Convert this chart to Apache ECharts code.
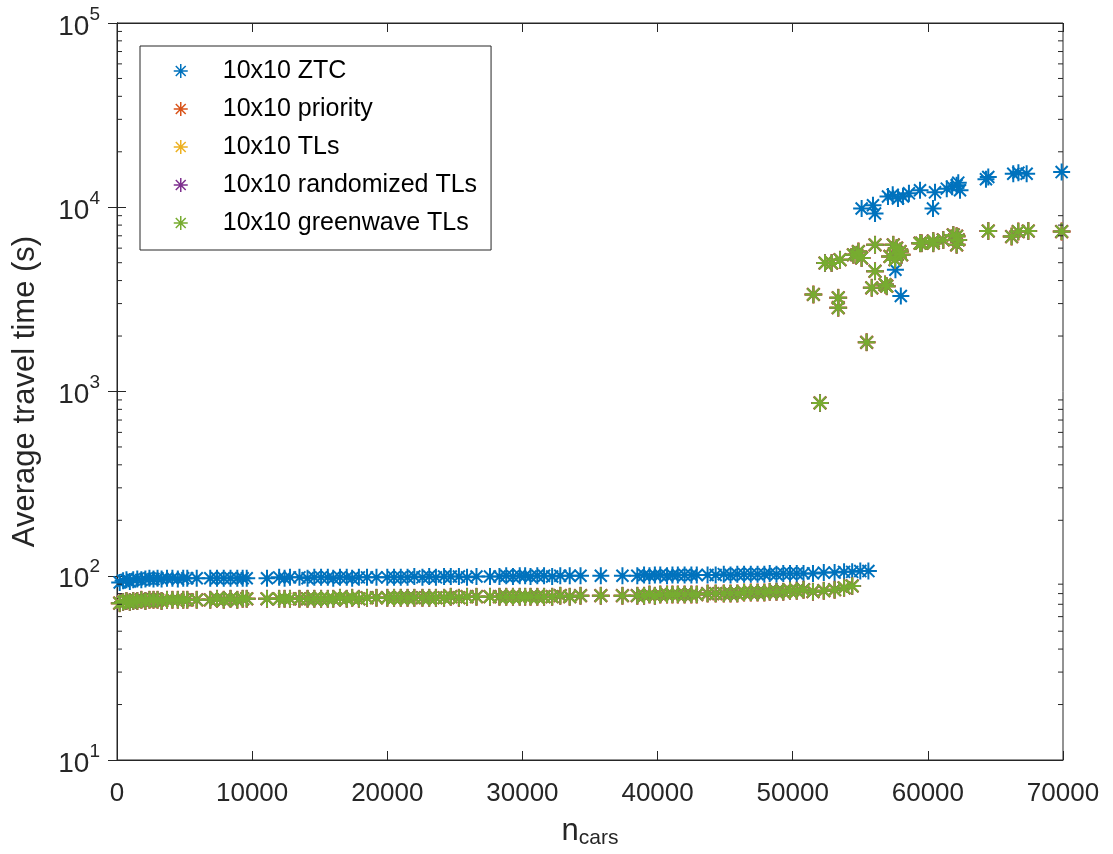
<!DOCTYPE html>
<html>
<head>
<meta charset="utf-8">
<script src="https://cdn.jsdelivr.net/npm/echarts@6/dist/echarts.min.js"></script>
<style>html,body{margin:0;padding:0;background:#fff;}#chart{width:1113px;height:854px;}</style>
</head>
<body>
<div id="chart"></div>
<script>
// ---------- data ----------
const seriesNames = ['10x10 ZTC', '10x10 priority', '10x10 TLs', '10x10 randomized TLs', '10x10 greenwave TLs'];
const colors = ['#0072BD', '#D95319', '#EDB120', '#7E2F8E', '#77AC30'];

const xTicks = [0, 10000, 20000, 30000, 40000, 50000, 60000, 70000];
const yMinorTicks = [20,30,40,50,60,70,80,90, 200,300,400,500,600,700,800,900,
  2000,3000,4000,5000,6000,7000,8000,9000, 20000,30000,40000,50000,60000,70000,80000,90000];

// ZTC: free-flow branch
const ztcLowX = [200,450,700,950,1200,1500,1800,2100,2400,2700,3000,3300,3700,4100,4500,4900,5200,5900,6900,7400,7900,8400,8900,9300,9600,
  11100,12000,12400,12800,13500,14100,14600,15100,15600,16000,16500,17000,17400,17900,18500,19200,20000,20500,21000,21500,22000,22600,23100,23600,24200,24700,25300,25900,26600,27600,
  28300,28800,29300,29800,30200,30600,31100,31600,32200,32800,33500,34300,35800,37400,38500,39000,39400,39800,40200,40700,41100,41500,42000,42500,42900,
  43700,44300,44900,45400,45900,46400,46900,47400,47900,48300,48800,49300,49800,50300,50800,51500,52300,53100,53800,54400,55000,55600];
const ztcLowY = [92,94,95,93,95,96,95,96,97,96,97,96,97,97,96,97,97,97,97,97,97,97,97,97,97,
  97,98,97,98,98,97,98,98,98,97,98,98,97,98,98,98,98,98,98,98,99,98,99,98,99,99,99,98,99,99,
  99,100,99,100,100,99,100,100,99,100,100,100,100,100,100,101,100,101,101,100,101,101,101,101,101,
  101,101,102,101,102,102,102,102,102,103,102,103,103,103,103,103,104,104,105,105,106,106];
// ZTC: congested branch
const ztcHighX = [55100,55940,56090,57050,57400,57790,58160,58600,59420,60380,60530,61400,61800,62130,62250,62380,64300,64470,66320,66700,67310,69900,57600,58000];
const ztcHighY = [9840,10260,9250,11430,11700,11150,11430,11900,12360,9840,12050,12620,12900,13150,13600,12360,14200,14590,15200,15400,15200,15520,4580,3300];

// Traffic-light / priority controllers (overlapping): free-flow branch
const tlLowX = [200,450,700,950,1200,1500,1800,2100,2400,2700,3000,3300,3700,4100,4500,4900,5200,5900,6900,7400,7900,8400,8900,9300,9600,
  11100,12000,12400,12800,13500,14100,14600,15100,15600,16000,16500,17000,17400,17900,18500,19200,20000,20500,21000,21500,22000,22600,23100,23600,24200,24700,25300,25900,26600,27600,
  28300,28800,29300,29800,30200,30600,31100,31600,32200,32800,33500,34300,35800,37400,38500,39000,39400,39800,40200,40700,41100,41500,42000,42500,42900,
  43700,44300,44900,45400,45900,46400,46900,47400,47900,48300,48800,49300,49800,50300,50800,51500,52300,53100,53800,54400];
const tlLowY = [71,72,73,72,73,73,74,73,74,74,74,73,74,74,74,74,74,74,74,75,74,75,74,75,75,
  75,75,75,75,75,75,75,75,75,75,76,75,76,75,76,76,76,76,76,76,76,76,76,76,76,77,76,77,77,77,
  77,77,77,77,77,77,77,77,77,78,77,78,78,78,78,78,79,78,79,79,79,79,79,79,79,
  80,80,80,80,80,81,81,81,81,82,82,82,83,83,84,82,83,84,86,88];
// congested branch
const tlHighX = [51530,52020,52390,52880,53370,53370,53500,54490,54730,54860,55100,55470,55850,56090,56090,56830,56960,57200,57440,57570,57690,57940,58060,59420,59540,60400,60400,61140,61880,62130,62130,62250,64470,66200,66690,67430,69900];
const tlHighY = [3363,867,4980,4980,3226,2850,5190,5520,5520,5750,5300,1848,3654,6250,4495,3805,3730,5410,6250,5190,5995,5750,5520,6380,6380,6380,6560,6650,7080,6250,6960,6650,7430,6930,7380,7430,7380];

// ---------- chart ----------
const FONT = "'Liberation Sans', Arial, Helvetica, sans-serif";
const TXT = '#262626';
const star = 'path://M10,0L10,20M0,10L20,10M2.93,2.93L17.07,17.07M2.93,17.07L17.07,2.93';

function pairs(xs, ys) { return xs.map((x, i) => [x, ys[i]]); }
const ztcData = pairs(ztcLowX, ztcLowY).concat(pairs(ztcHighX, ztcHighY));
const tlData = pairs(tlLowX, tlLowY).concat(pairs(tlHighX, tlHighY));
const sizes = [17, 18, 17.5, 17.5, 17];

const series = seriesNames.map((name, i) => ({
  name: name,
  type: 'scatter',
  xAxisIndex: 0, yAxisIndex: 0,
  data: i === 0 ? ztcData : tlData,
  symbol: star,
  symbolSize: sizes[i],
  itemStyle: { color: colors[i], borderColor: colors[i], borderWidth: 2, opacity: 1 },
  emphasis: { disabled: true },
  z: 2 + i
}));

series.push({
  type: 'custom',
  silent: true,
  xAxisIndex: 0, yAxisIndex: 0,
  data: yMinorTicks.map(v => [0, v]),
  encode: { x: 0, y: 1 },
  z: 10,
  renderItem: function (params, api) {
    const y = api.coord([0, api.value(1)])[1];
    const cs = params.coordSys;
    return {
      type: 'group',
      children: [
        { type: 'line', shape: { x1: cs.x, y1: y, x2: cs.x + 5, y2: y }, style: { stroke: TXT, lineWidth: 1 } },
        { type: 'line', shape: { x1: cs.x + cs.width - 5, y1: y, x2: cs.x + cs.width, y2: y }, style: { stroke: TXT, lineWidth: 1 } }
      ]
    };
  }
});

const chart = echarts.init(document.getElementById('chart'), null, { renderer: 'canvas' });
chart.setOption({
  animation: false,
  backgroundColor: '#ffffff',
  textStyle: { fontFamily: FONT, color: TXT },
  grid: { left: 117, right: 50, top: 23, bottom: 88, show: true, borderColor: TXT, borderWidth: 1, backgroundColor: 'transparent' },
  legend: {
    left: 140, top: 46,
    orient: 'vertical',
    data: seriesNames,
    backgroundColor: '#ffffff',
    borderColor: TXT, borderWidth: 1,
    padding: [10, 14, 12, 33],
    itemWidth: 14, itemHeight: 14, itemGap: 8,
    itemStyle: { borderWidth: 1.5 },
    textStyle: { fontFamily: FONT, fontSize: 25, lineHeight: 30, color: '#000', padding: [0, 0, 0, 30] },
    selectedMode: false
  },
  xAxis: [{
    type: 'value', min: 0, max: 70000, interval: 10000, position: 'bottom',
    name: '{n|n}{s|cars}', nameLocation: 'middle', nameGap: 54,
    nameTextStyle: { rich: {
      n: { fontFamily: FONT, fontSize: 31, color: TXT },
      s: { fontFamily: FONT, fontSize: 21, color: TXT, padding: [14, 0, 0, 0] }
    } },
    axisLine: { show: true, lineStyle: { color: TXT } },
    axisTick: { show: true, inside: true, length: 9, lineStyle: { color: TXT } },
    axisLabel: { fontFamily: FONT, fontSize: 26, color: TXT, margin: 21, formatter: function (v) { return String(v); } },
    splitLine: { show: false }
  }, {
    type: 'value', min: 0, max: 70000, interval: 10000, position: 'top',
    axisLine: { show: true, lineStyle: { color: TXT } },
    axisTick: { show: true, inside: true, length: 9, lineStyle: { color: TXT } },
    axisLabel: { show: false },
    splitLine: { show: false }
  }],
  yAxis: [{
    type: 'log', logBase: 10, min: 10, max: 100000, position: 'left',
    name: 'Average travel time (s)', nameLocation: 'middle', nameGap: 76,
    nameTextStyle: { fontFamily: FONT, fontSize: 31, color: TXT },
    axisLine: { show: true, lineStyle: { color: TXT } },
    axisTick: { show: true, inside: true, length: 9, lineStyle: { color: TXT } },
    axisLabel: {
      margin: 17,
      formatter: function (v) { return '{b|10}{p|' + Math.round(Math.log10(v)) + '}'; },
      rich: {
        b: { fontFamily: FONT, fontSize: 28, color: TXT, verticalAlign: 'bottom', lineHeight: 36 },
        p: { fontFamily: FONT, fontSize: 19, color: TXT, verticalAlign: 'top', lineHeight: 36 }
      }
    },
    splitLine: { show: false }
  }, {
    type: 'log', logBase: 10, min: 10, max: 100000, position: 'right',
    axisLine: { show: true, lineStyle: { color: TXT } },
    axisTick: { show: true, inside: true, length: 9, lineStyle: { color: TXT } },
    axisLabel: { show: false },
    splitLine: { show: false }
  }],
  series: series
});
</script>
</body>
</html>
